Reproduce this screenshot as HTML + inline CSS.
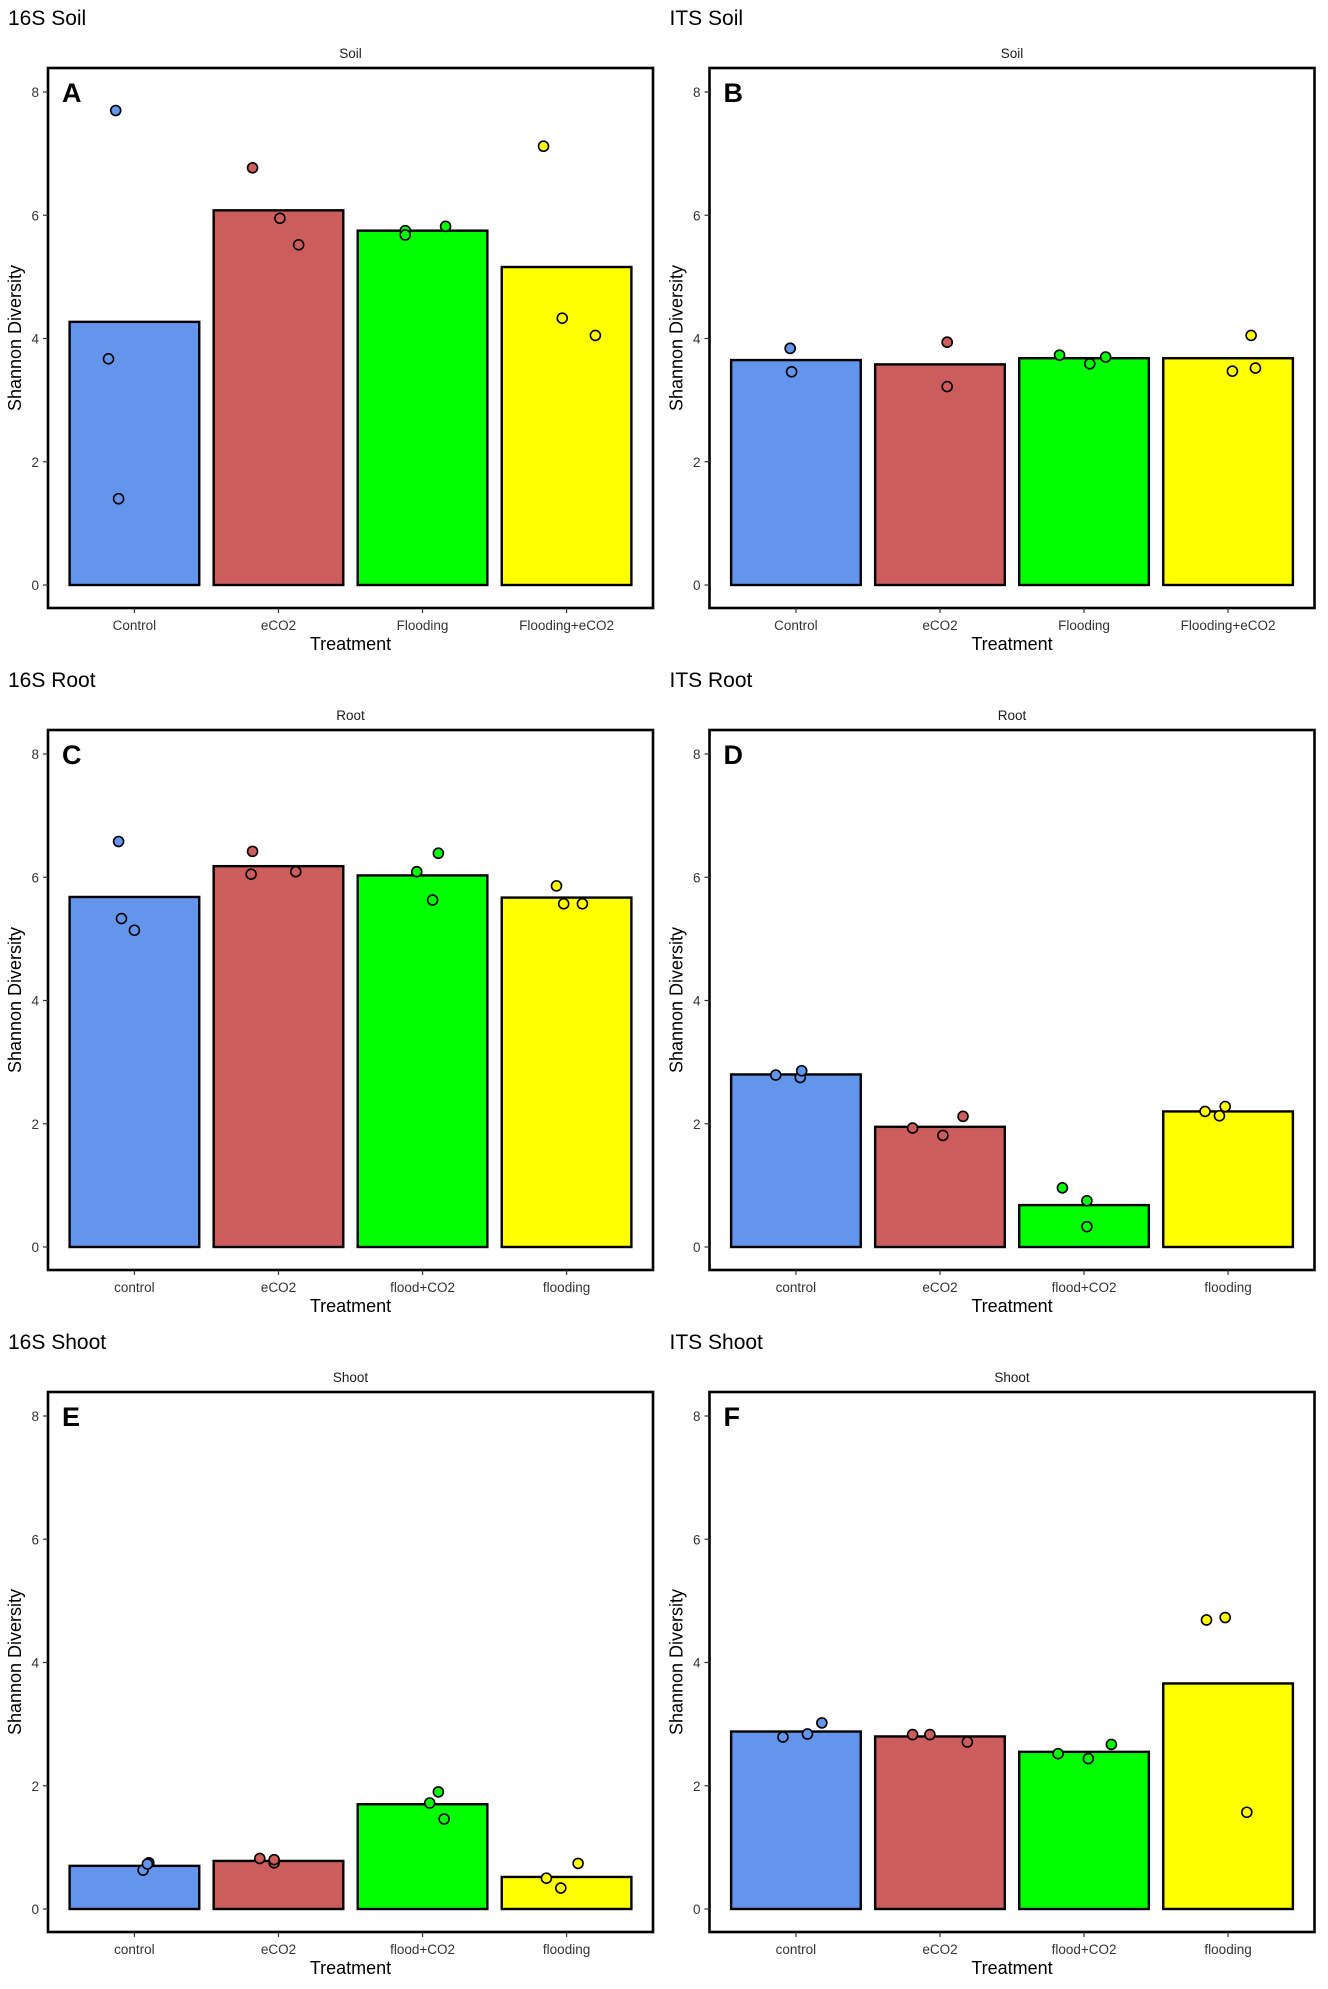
<!DOCTYPE html>
<html><head><meta charset="utf-8"><style>
html,body{margin:0;padding:0;background:#fff;}
svg{display:block;font-family:"Liberation Sans",Arial,sans-serif;}
</style></head><body>
<svg id="fig" width="1328" height="1989" viewBox="0 0 1328 1989" xmlns="http://www.w3.org/2000/svg"></svg>
<script>
const panelTitles=["16S Soil","ITS Soil","16S Root","ITS Root","16S Shoot","ITS Shoot"];
const stripLabels=["Soil","Soil","Root","Root","Shoot","Shoot"];
const panelLetters=["A","B","C","D","E","F"];
const catsSoil=["Control","eCO2","Flooding","Flooding+eCO2"];
const catsOther=["control","eCO2","flood+CO2","flooding"];
const colors=["#6495ED","#CD5C5C","#00FF00","#FFFF00"];
const yTicks=[0,2,4,6,8];
const barsA=[4.27,6.08,5.75,5.16];
const barsB=[3.65,3.58,3.68,3.68];
const barsC=[5.68,6.18,6.03,5.67];
const barsD=[2.80,1.95,0.68,2.20];
const barsE=[0.70,0.78,1.70,0.52];
const barsF=[2.88,2.80,2.55,3.66];
const ptsA=[[7.7,3.67,1.4],[6.77,5.95,5.52],[5.75,5.68,5.82],[7.12,4.33,4.05]];
const ptsB=[[3.84,3.46,3.84],[3.94,3.22,3.94],[3.73,3.59,3.70],[4.05,3.47,3.52]];
const ptsC=[[6.58,5.33,5.14],[6.42,6.05,6.09],[6.09,6.39,5.63],[5.86,5.57,5.57]];
const ptsD=[[2.79,2.75,2.86],[1.93,1.81,2.12],[0.96,0.75,0.33],[2.20,2.13,2.28]];
const ptsE=[[0.63,0.75,0.73],[0.82,0.75,0.80],[1.72,1.90,1.46],[0.50,0.34,0.74]];
const ptsF=[[2.79,2.84,3.02],[2.83,2.83,2.71],[2.52,2.44,2.67],[4.69,4.73,1.57]];
const jitA=[[-0.13,-0.18,-0.11],[-0.18,0.01,0.14],[-0.12,-0.12,0.16],[-0.16,-0.03,0.2]];
const jitB=[[-0.04,-0.03,-0.04],[0.05,0.05,0.05],[-0.17,0.04,0.15],[0.16,0.03,0.19]];
const jitC=[[-0.11,-0.09,0.0],[-0.18,-0.19,0.12],[-0.04,0.11,0.07],[-0.07,-0.02,0.11]];
const jitD=[[-0.14,0.03,0.04],[-0.19,0.02,0.16],[-0.15,0.02,0.02],[-0.16,-0.06,-0.02]];
const jitE=[[0.06,0.1,0.09],[-0.13,-0.03,-0.03],[0.05,0.11,0.15],[-0.14,-0.04,0.08]];
const jitF=[[-0.09,0.08,0.18],[-0.19,-0.07,0.19],[-0.18,0.03,0.19],[-0.15,-0.02,0.13]];
const allBars=[barsA,barsB,barsC,barsD,barsE,barsF];
const allPts=[ptsA,ptsB,ptsC,ptsD,ptsE,ptsF];
const allJit=[jitA,jitB,jitC,jitD,jitE,jitF];

const NS="http://www.w3.org/2000/svg";
const svg=document.getElementById('fig');
function mk(tag,attrs,parent){const e=document.createElementNS(NS,tag);for(const k in attrs)e.setAttribute(k,attrs[k]);(parent||svg).appendChild(e);return e;}

for(let p=0;p<6;p++){
  const ox=(p%2)*661.5, oy=Math.floor(p/2)*662;
  const g=mk('g',{});
  
  
  const L=48+ox,R=653+ox,T=68+oy,B=608+oy;
  const y0=585+oy,y8=92+oy;
  const yS=v=>y0-(y0-y8)*v/8;
  const band=(R-L)/4.2;
  const xS=i=>L+band*(0.6+i);
  const cats=p<2?catsSoil:catsOther;
  let t=mk('text',{x:ox+8,y:oy+25,'font-size':21,fill:'#000'},g);t.textContent=panelTitles[p];
  
  t=mk('text',{x:(L+R)/2,y:oy+58,'font-size':13.5,'text-anchor':'middle',fill:'#1a1a1a'},g);t.textContent=stripLabels[p];
  
  allBars[p].forEach((v,i)=>{
    const r=mk('rect',{x:xS(i)-band*0.45,y:yS(v),width:band*0.9,height:yS(0)-yS(v),fill:colors[i],stroke:'#000','stroke-width':2.4},g);
    
    
  });
  allPts[p].forEach((arr,i)=>{arr.forEach((v,j)=>{
    const c=mk('circle',{cx:xS(i)+allJit[p][i][j]*band,cy:yS(v),r:5,fill:colors[i],stroke:'#000','stroke-width':1.6},g);
    
    
  });});
  const box=mk('rect',{x:L,y:T,width:R-L,height:B-T,fill:'none',stroke:'#000','stroke-width':2.6},g);
  
  yTicks.forEach(v=>{
    mk('line',{x1:L-5,x2:L,y1:yS(v),y2:yS(v),stroke:'#333','stroke-width':1.2},g);
    const tt=mk('text',{x:L-9,y:yS(v)+5,'font-size':13.5,'text-anchor':'end',fill:'#333'},g);tt.textContent=v;
    
  });
  cats.forEach((c,i)=>{
    mk('line',{x1:xS(i),x2:xS(i),y1:B,y2:B+5,stroke:'#333','stroke-width':1.2},g);
    const tt=mk('text',{x:xS(i),y:B+22,'font-size':13.5,'text-anchor':'middle',fill:'#333'},g);tt.textContent=c;
    
  });
  t=mk('text',{x:(L+R)/2,y:B+42,'font-size':18,'text-anchor':'middle',fill:'#000'},g);t.textContent='Treatment';
  
  const cy=(T+B)/2;
  t=mk('text',{x:ox+21,y:cy,'font-size':18,'text-anchor':'middle',fill:'#000',transform:`rotate(-90 ${ox+21} ${cy})`},g);t.textContent='Shannon Diversity';
  
  t=mk('text',{x:L+14,y:T+34,'font-size':27,'font-weight':'bold',fill:'#000'},g);t.textContent=panelLetters[p];
  
}
</script>
</body></html>
